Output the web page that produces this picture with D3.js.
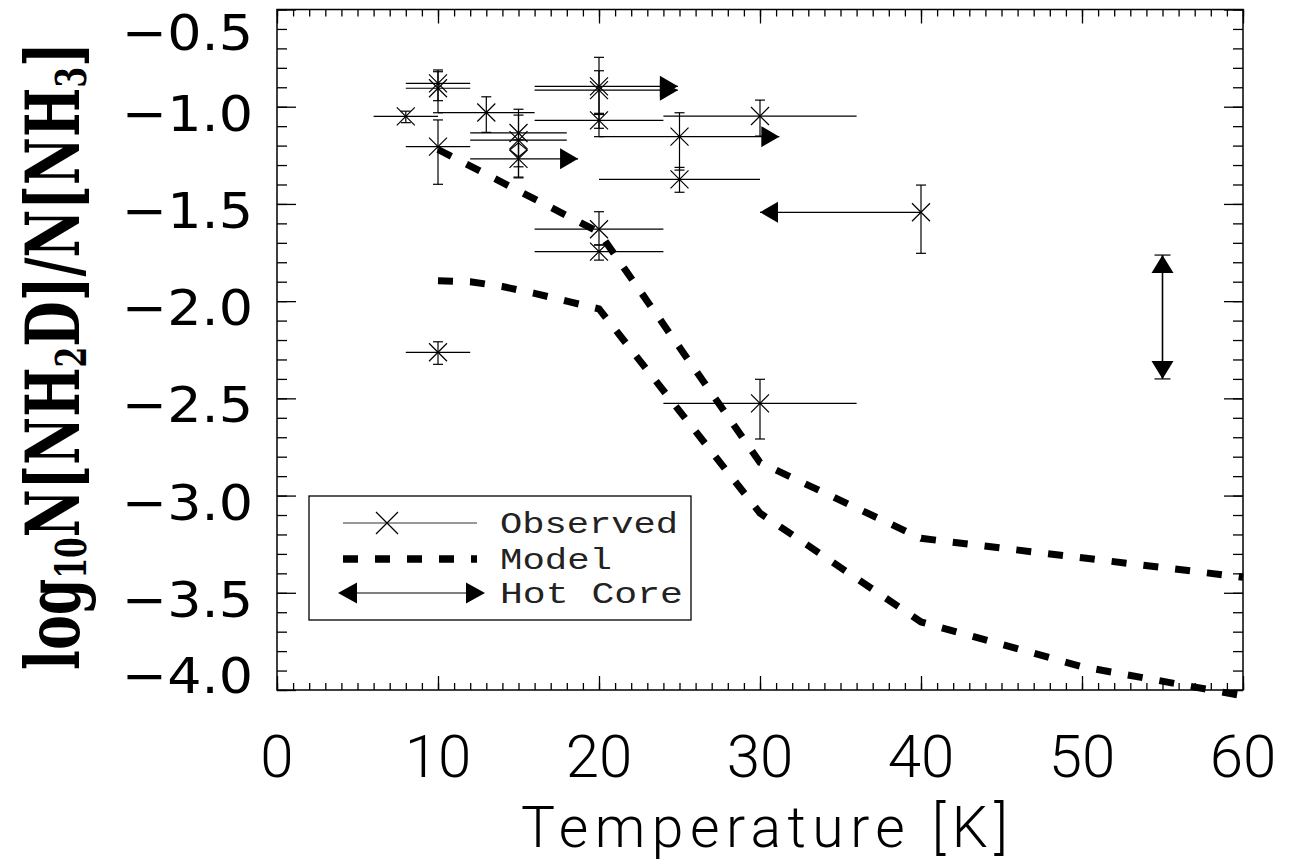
<!DOCTYPE html>
<html><head><meta charset="utf-8">
<script src="https://cdn.jsdelivr.net/npm/d3@7"></script>
<style>body{margin:0;background:#fff}</style>
</head><body>
<svg id="c" width="1289" height="867" xmlns="http://www.w3.org/2000/svg"></svg>
<script>
// ---------- data ----------
const xTicks = [0, 10, 20, 30, 40, 50, 60];
const xTickLabels = ["0", "10", "20", "30", "40", "50", "60"];
const yTicks = [-0.5, -1.0, -1.5, -2.0, -2.5, -3.0, -3.5, -4.0];
const yTickLabels = ["\u22120.5", "\u22121.0", "\u22121.5", "\u22122.0", "\u22122.5", "\u22123.0", "\u22123.5", "\u22124.0"];

// observed points: temperature, log ratio, temperature range, ratio range, arrow (limit)
const obsT     = [8, 10, 10, 10, 13, 15, 15, 15, 20, 20, 20, 20, 20, 25, 25, 30, 40, 10, 30];
const obsR     = [-1.05, -0.88, -0.905, -1.205, -1.03, -1.135, -1.172, -1.268, -0.895, -0.915, -1.07, -1.63, -1.745, -1.154, -1.374, -1.048, -1.543, -2.263, -2.526];
const obsTLo   = [6, 8, 8, 8, 10, 12, 12, 12, 16, 16, 16, 16, 16, 20, 20, 24, 30, 8, 24];
const obsTHi   = [10, 12, 12, 12, 16, 18, 18, 18.7, 24.9, 24.9, 24, 24, 24, 31.2, 30, 36, 40, 12, 36];
const obsRLo   = [-1.082, -0.969, -1.031, -1.399, -1.132, -1.309, -1.362, -1.366, -1.154, -1.04, -1.111, -1.711, -1.789, -1.326, -1.44, -1.151, -1.754, -2.325, -2.709];
const obsRHi   = [-1.023, -0.811, -0.82, -1.068, -0.949, -1.013, -1.043, -1.17, -0.746, -0.815, -1.034, -1.54, -1.711, -1.031, -1.312, -0.966, -1.403, -2.209, -2.402];
const obsArrow = ["", "", "", "", "", "", "", "right", "right", "right", "", "", "", "right", "", "", "left", "", ""];

const diamondT = [15];
const diamondR = [-1.222];

// model curves
const model1T = [10, 20, 30, 40, 50, 60];
const model1R = [-1.22, -1.645, -2.83, -3.22, -3.32, -3.42];
const model2T = [10, 12, 14, 16, 18, 20, 30, 40, 50, 60];
const model2R = [-1.895, -1.90, -1.925, -1.96, -2.00, -2.04, -3.09, -3.65, -3.88, -4.03];

// hot core range
const hotT = [55];
const hotLo = [-2.40];
const hotHi = [-1.763];

const legendLabels = ["Observed", "Model", "Hot Core"];

// ---------- drawing ----------
const svg = d3.select("#c");
const L = 277, R = 1243, T = 9.5, B = 690;
const x = d3.scaleLinear().domain([0, 60]).range([L, R]);
const y = d3.scaleLinear().domain([-4.0, -0.5]).range([B, T]);

svg.append("rect").attr("width", 1289).attr("height", 867).attr("fill", "#fff");

function tickAxis(axis, tr) {
  const g = svg.append("g").attr("transform", tr).call(axis);
  g.select(".domain").remove();
  g.selectAll("line").attr("stroke", "#000").attr("stroke-width", 1.3);
  g.selectAll("text").remove();
}
const xMinor = d3.range(0, 61, 1);
const yMinor = d3.range(-40, -4, 1).map(v => v / 10);
tickAxis(d3.axisBottom(x).tickValues(xMinor).tickSize(-7).tickFormat(""), `translate(0,${B})`);
tickAxis(d3.axisBottom(x).tickValues(xTicks).tickSize(-14).tickFormat(""), `translate(0,${B})`);
tickAxis(d3.axisTop(x).tickValues(xMinor).tickSize(-7).tickFormat(""), `translate(0,${T})`);
tickAxis(d3.axisTop(x).tickValues(xTicks).tickSize(-14).tickFormat(""), `translate(0,${T})`);
tickAxis(d3.axisLeft(y).tickValues(yMinor).tickSize(-10).tickFormat(""), `translate(${L},0)`);
tickAxis(d3.axisLeft(y).tickValues(yTicks).tickSize(-19).tickFormat(""), `translate(${L},0)`);
tickAxis(d3.axisRight(y).tickValues(yMinor).tickSize(-10).tickFormat(""), `translate(${R},0)`);
tickAxis(d3.axisRight(y).tickValues(yTicks).tickSize(-19).tickFormat(""), `translate(${R},0)`);

svg.append("rect").attr("x", L).attr("y", T).attr("width", R - L).attr("height", B - T)
  .attr("fill", "none").attr("stroke", "#000").attr("stroke-width", 1.5);

// y tick labels
yTicks.forEach((v, i) => {
  const c = Math.max(T + 22, Math.min(B - 15, y(v) + 6));
  svg.append("text").attr("x", 122).attr("y", c + 18)
    .attr("font-family", "DejaVu Sans").attr("font-size", 50)
    .attr("textLength", 131).attr("lengthAdjust", "spacingAndGlyphs")
    .attr("fill", "#000").text(yTickLabels[i]);
});
// x tick labels
xTicks.forEach((v, i) => {
  svg.append("text").attr("x", x(v)).attr("y", 777).attr("text-anchor", "middle")
    .attr("font-family", "Roboto").attr("font-weight", 300).attr("font-size", 60)
    .attr("fill", "#000").text(xTickLabels[i]);
});
// x title
svg.append("text").attr("x", 521).attr("y", 847)
  .attr("font-family", "Roboto").attr("font-weight", 300).attr("font-size", 57)
  .attr("textLength", 487).attr("lengthAdjust", "spacing")
  .attr("fill", "#000").text("Temperature [K]");

// y title
const yt = svg.append("text").attr("font-family", "DejaVu Serif").attr("font-weight", "bold")
  .attr("font-size", 74).attr("fill", "#000");
const parts = [["log", 0], ["10", 1], ["N[NH", 0], ["2", 1], ["D]/N[NH", 0], ["3", 1], ["]", 0]];
parts.forEach((p, i) => {
  const ts = yt.append("tspan").text(p[0]);
  const prevSub = i > 0 && parts[i - 1][1];
  if (p[1]) ts.attr("font-size", 42).attr("dy", 7);
  else ts.attr("dy", prevSub ? -7 : 0);
});
const ylen = yt.node().getComputedTextLength();
yt.attr("transform", `translate(79,670) rotate(-90) scale(${628 / ylen},1)`);

// model lines
const line = d3.line().x(d => x(d[0])).y(d => y(d[1]));
[[model1T, model1R], [model2T, model2R]].forEach(m => {
  svg.append("path").attr("d", line(m[0].map((t, i) => [t, m[1][i]])))
    .attr("fill", "none").attr("stroke", "#000").attr("stroke-width", 7)
    .attr("stroke-dasharray", "15,17").attr("stroke-linejoin", "miter");
});

// observed
const g = svg.append("g").attr("stroke", "#000").attr("stroke-width", 1.2).attr("fill", "none");
const tri = (tx, ty, dir, len, half) => {
  if (dir === "right") return `M${tx},${ty}L${tx - len},${ty - half}L${tx - len},${ty + half}Z`;
  if (dir === "left") return `M${tx},${ty}L${tx + len},${ty - half}L${tx + len},${ty + half}Z`;
  if (dir === "up") return `M${tx},${ty}L${tx - half},${ty + len}L${tx + half},${ty + len}Z`;
  return `M${tx},${ty}L${tx - half},${ty - len}L${tx + half},${ty - len}Z`;
};
obsT.forEach((t, i) => {
  const px = x(t), py = y(obsR[i]);
  g.append("line").attr("x1", x(obsTLo[i])).attr("x2", x(obsTHi[i])).attr("y1", py).attr("y2", py);
  if (obsArrow[i] === "right") {
    g.append("path").attr("d", tri(x(obsTHi[i]), py, "right", 18, 10.5)).attr("fill", "#000").attr("stroke", "none");
  } else if (obsArrow[i] === "left") {
    g.append("path").attr("d", tri(x(obsTLo[i]), py, "left", 18, 10.5)).attr("fill", "#000").attr("stroke", "none");
  }
  const y1 = y(obsRLo[i]), y2 = y(obsRHi[i]);
  g.append("line").attr("x1", px).attr("x2", px).attr("y1", y1).attr("y2", y2);
  g.append("line").attr("x1", px - 5).attr("x2", px + 5).attr("y1", y1).attr("y2", y1);
  g.append("line").attr("x1", px - 5).attr("x2", px + 5).attr("y1", y2).attr("y2", y2);
  g.append("path").attr("d", `M${px - 9},${py - 9}L${px + 9},${py + 9}M${px - 9},${py + 9}L${px + 9},${py - 9}`);
});
diamondT.forEach((t, i) => {
  const px = x(t), py = y(diamondR[i]);
  g.append("path").attr("d", `M${px},${py - 7}L${px + 8.5},${py}L${px},${py + 7}L${px - 8.5},${py}Z`);
});

// hot core
hotT.forEach((t, i) => {
  const px = x(t), ya = y(hotHi[i]), yb = y(hotLo[i]);
  g.append("line").attr("x1", px).attr("x2", px).attr("y1", ya).attr("y2", yb).attr("stroke-width", 1.6);
  g.append("path").attr("d", tri(px, ya, "up", 18, 11)).attr("fill", "#000").attr("stroke", "none");
  g.append("path").attr("d", tri(px, yb, "down", 18, 11)).attr("fill", "#000").attr("stroke", "none");
  g.append("line").attr("x1", px - 8).attr("x2", px + 8).attr("y1", ya).attr("y2", ya);
  g.append("line").attr("x1", px - 8).attr("x2", px + 8).attr("y1", yb).attr("y2", yb);
});

// legend
const lg = svg.append("g");
lg.append("rect").attr("x", 309).attr("y", 496).attr("width", 382).attr("height", 124)
  .attr("fill", "#fff").attr("stroke", "#000").attr("stroke-width", 1.3);
const rowY = [523, 559, 593];
lg.append("line").attr("x1", 343).attr("x2", 477).attr("y1", rowY[0]).attr("y2", rowY[0]).attr("stroke", "#333").attr("stroke-width", 1.2);
lg.append("path").attr("d", `M376,512L398,534M376,534L398,512`).attr("stroke", "#000").attr("stroke-width", 1.2);
lg.append("line").attr("x1", 343).attr("x2", 477).attr("y1", rowY[1]).attr("y2", rowY[1])
  .attr("stroke", "#000").attr("stroke-width", 7.5).attr("stroke-dasharray", "15,17");
lg.append("line").attr("x1", 350).attr("x2", 470).attr("y1", rowY[2]).attr("y2", rowY[2]).attr("stroke", "#000").attr("stroke-width", 1.2);
lg.append("path").attr("d", tri(338, rowY[2], "left", 19, 10.5)).attr("fill", "#000");
lg.append("path").attr("d", tri(485, rowY[2], "right", 19, 10.5)).attr("fill", "#000");
const tl = [178, 112, 183];
legendLabels.forEach((s, i) => {
  lg.append("text").attr("x", 500).attr("y", rowY[i] + 10)
    .attr("font-family", "Liberation Mono").attr("font-size", 30)
    .attr("textLength", tl[i]).attr("lengthAdjust", "spacingAndGlyphs")
    .attr("fill", "#222").text(s);
});
</script>
</body></html>
